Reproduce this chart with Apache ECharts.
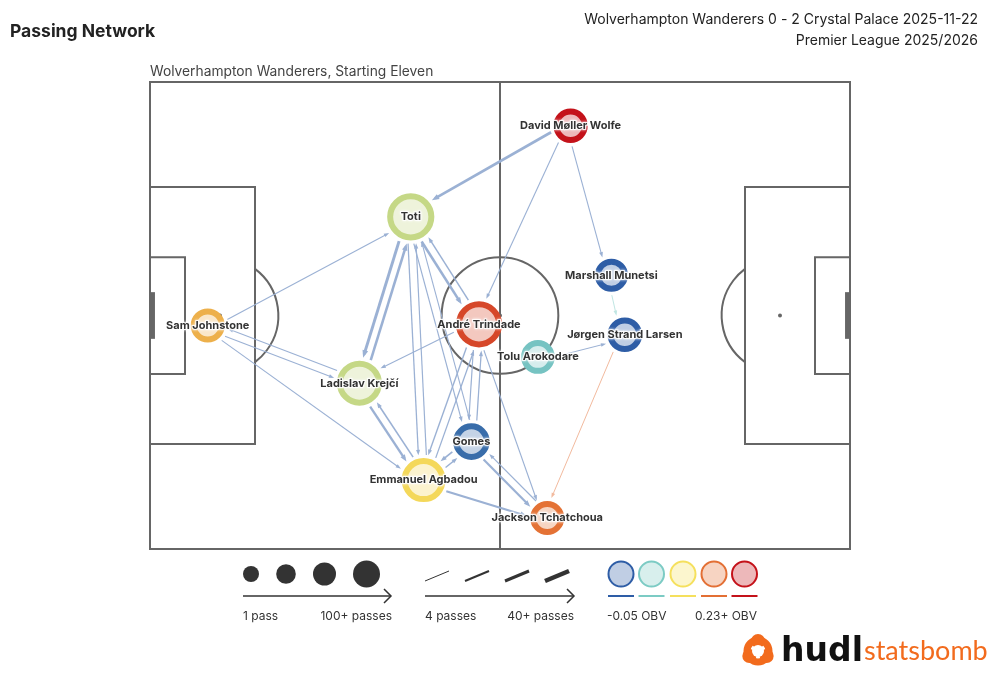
<!DOCTYPE html>
<html><head><meta charset="utf-8">
<script src="https://cdn.jsdelivr.net/npm/echarts@6/dist/echarts.min.js"></script>
<style>html,body{margin:0;padding:0;background:#fff}#c{width:1000px;height:690px}</style>
</head><body><div id="c"></div>
<script>
// ---------- DATA ----------
const players = ['David Møller Wolfe','Toti','Marshall Munetsi','Sam Johnstone','André Trindade','Jørgen Strand Larsen','Tolu Arokodare','Ladislav Krejčí','Gomes','Emmanuel Agbadou','Jackson Tchatchoua'];
const playerX = [72.1, 44.7, 79.1, 9.9, 56.4, 81.4, 66.5, 35.9, 55.1, 46.9, 68.1];
const playerY = [7.5, 23.1, 33.1, 41.7, 41.5, 43.3, 47.1, 51.6, 61.6, 68.2, 74.7];
const playerPasses = [20, 60, 16, 19, 57, 21, 18, 53, 27, 50, 19];
const playerObv = [0.23, 0.062, -0.05, 0.12, 0.19, -0.05, 0.015, 0.062, -0.04, 0.095, 0.158];

const edgeSource = [0, 3, 1, 7, 1, 4, 1, 9, 1, 8, 4, 4, 9, 4, 8, 0, 0, 2, 6, 5, 8, 10, 9, 8, 9, 7, 9, 3, 7, 3, 4];
const edgeTarget = [1, 1, 7, 1, 4, 1, 9, 1, 8, 1, 7, 9, 4, 8, 4, 4, 2, 5, 5, 10, 10, 8, 10, 9, 8, 9, 7, 7, 3, 9, 10];
const edgePasses = [22, 5, 24, 20, 20, 9, 7, 6, 6, 5, 5, 8, 7, 6, 7, 5, 5, 4, 4, 4, 16, 6, 17, 12, 8, 18, 10, 5, 5, 5, 5];
const edgeObv =    [-0.06,-0.06,-0.06,-0.06,-0.06,-0.06,-0.06,-0.06,-0.06,-0.06,-0.06,-0.06,-0.06,-0.06,-0.06,-0.06,-0.06, 0.02,-0.06, 0.16,-0.06,-0.06,-0.06,-0.06,-0.06,-0.06,-0.06,-0.06,-0.06,-0.06,-0.06];

const obvStops = [-0.05, 0.02, 0.09, 0.16, 0.23];
const obvLabels = ['-0.05 OBV', '0.23+ OBV'];
const sizeLabels = ['1 pass', '100+ passes'];
const widthLabels = ['4 passes', '40+ passes'];

// ---------- STYLE HELPERS ----------
const obvColors = ['#2e5da6', '#7ccbc4', '#f5e05d', '#e36f34', '#c4121a'];
function hexRgb(h){ return [parseInt(h.slice(1,3),16), parseInt(h.slice(3,5),16), parseInt(h.slice(5,7),16)]; }
function rgbHex(c){ return '#' + c.map(v => Math.round(Math.max(0,Math.min(255,v))).toString(16).padStart(2,'0')).join(''); }
function obvColor(v){
  if (v <= obvStops[0]) return obvColors[0];
  if (v >= obvStops[obvStops.length-1]) return obvColors[obvColors.length-1];
  for (let i = 0; i < obvStops.length-1; i++) {
    if (v <= obvStops[i+1]) {
      const t = (v - obvStops[i]) / (obvStops[i+1] - obvStops[i]);
      const a = hexRgb(obvColors[i]), b = hexRgb(obvColors[i+1]);
      return rgbHex(a.map((x, k) => x + (b[k]-x)*t));
    }
  }
}
function tint(hex, a){ const c = hexRgb(hex); return rgbHex(c.map(x => 255 - (255 - x)*a)); }
function nodeRadius(p){ return 14 + p * 0.16; }
function edgeWidth(p){ return Math.max(1, Math.min(4.5, 1 + (p - 4) * 3.5 / 36)); }
const BORDER = 6;
const FONT = 'Inter, "Noto Sans", sans-serif';

// pitch geometry (StatsBomb 120x80 units)
const pitch = {
  rects: [[0,0,120,80],[0,18,18,62],[102,18,120,62],[0,30,6,50],[114,30,120,50]],
  lines: [[60,0,60,80]],
  circles: [[60,40,10]],
  arcs: [[12,40,10,-0.9273,0.9273],[108,40,10,Math.PI-0.9273,Math.PI+0.9273]],
  spots: [[108,40],[12,40],[60,40]],
  goals: [[0,36,0.85,44],[119.15,36,120,44]]
};
const PITCH_COL = '#666';

const chart = echarts.init(document.getElementById('c'), null, {renderer: 'canvas'});

const nodeData = players.map((n, i) => {
  const c = obvColor(playerObv[i]);
  return {
    name: n,
    value: [playerX[i], playerY[i], playerPasses[i]],
    symbolSize: 2 * nodeRadius(playerPasses[i]) - BORDER,
    itemStyle: { color: tint(c, 0.3), borderColor: c, borderWidth: BORDER, opacity: 1 }
  };
});
const edgeData = edgeSource.map((s, i) => [s, edgeTarget[i], edgePasses[i], edgeObv[i]]);

// legend graphics
const g = [];
function txt(x, y, text, font, fill, align){ g.push({type:'text', x, y, silent:true, style:{text, font, fill, textAlign: align || 'left', textVerticalAlign:'middle'}}); }
txt(10, 32, 'Passing Network', 'bold 17.5px ' + FONT, '#222');
txt(978, 20, 'Wolverhampton Wanderers 0 - 2 Crystal Palace 2025-11-22', '14px ' + FONT, '#222', 'right');
txt(978, 41, 'Premier League 2025/2026', '14px ' + FONT, '#222', 'right');
txt(150, 72, 'Wolverhampton Wanderers, Starting Eleven', '13.8px ' + FONT, '#444');

[[251,8],[286,9.8],[324.5,11.5],[366.5,13.5]].forEach(d => g.push({type:'circle', shape:{cx:d[0], cy:574, r:d[1]}, style:{fill:'#333'}}));
function arrow(x1, x2, y){
  g.push({type:'line', shape:{x1, y1:y, x2, y2:y}, style:{stroke:'#333', lineWidth:1.5}});
  g.push({type:'polyline', shape:{points:[[x2-7,y-7],[x2,y],[x2-7,y+7]]}, style:{stroke:'#333', lineWidth:1.5, fill:null}});
}
arrow(243, 391, 596);
txt(243, 616, sizeLabels[0], '12px ' + FONT, '#333');
txt(392, 616, sizeLabels[1], '12px ' + FONT, '#333', 'right');
[[425,1],[465,2],[505,3],[545,4.5]].forEach(d => g.push({type:'line', shape:{x1:d[0], y1:581, x2:d[0]+24, y2:571}, style:{stroke:'#333', lineWidth:d[1]}}));
arrow(425, 574, 596);
txt(425, 616, widthLabels[0], '12px ' + FONT, '#333');
txt(574, 616, widthLabels[1], '12px ' + FONT, '#333', 'right');
[621, 651.5, 683, 714, 744.5].forEach((cx, i) => {
  const c = obvColor(obvStops[i]);
  g.push({type:'circle', shape:{cx, cy:574, r:12.5}, style:{fill:tint(c,0.3), stroke:c, lineWidth:2}});
  g.push({type:'line', shape:{x1:cx-13, y1:596, x2:cx+13, y2:596}, style:{stroke:c, lineWidth:2}});
});
txt(607, 616, obvLabels[0], '12px ' + FONT, '#333');
txt(757, 616, obvLabels[1], '12px ' + FONT, '#333', 'right');

// logo
const ORANGE = '#f26b1d';
g.push({type:'circle', shape:{cx:758, cy:651, r:11}, style:{fill:null, stroke:ORANGE, lineWidth:7}});
[[-90],[30],[150]].forEach(a => {
  const r = a[0] * Math.PI / 180;
  g.push({type:'circle', shape:{cx:758 + 10*Math.cos(r), cy:651 + 10*Math.sin(r), r:7}, style:{fill:ORANGE}});
});
g.push({type:'circle', shape:{cx:758, cy:651, r:6}, style:{fill:'#fff'}});
g.push({type:'text', x:863, y:652, style:{text:'hudl', font:'bold 33px "DejaVu Sans"', fill:'#111', textAlign:'right', textVerticalAlign:'middle'}});
g.push({type:'text', x:864, y:651, style:{text:'statsbomb', font:'27px Lato', fill:ORANGE, textAlign:'left', textVerticalAlign:'middle'}});

const option = {
  animation: false,
  backgroundColor: '#fff',
  grid: { left: 150, top: 82, width: 700, height: 467 },
  xAxis: { type: 'value', min: 0, max: 120, show: false },
  yAxis: { type: 'value', min: 0, max: 80, inverse: true, show: false },
  graphic: g,
  series: [
    {
      type: 'custom', z: 1, silent: true,
      data: [[0, 0]],
      renderItem: function (params, api) {
        const ch = [];
        const ux = api.size([1, 0])[0];
        const st = {stroke: PITCH_COL, lineWidth: 2, fill: null};
        pitch.rects.forEach(r => {
          const a = api.coord([r[0], r[1]]), b = api.coord([r[2], r[3]]);
          ch.push({type:'rect', shape:{x:a[0], y:a[1], width:b[0]-a[0], height:b[1]-a[1]}, style:st});
        });
        pitch.lines.forEach(l => {
          const a = api.coord([l[0], l[1]]), b = api.coord([l[2], l[3]]);
          ch.push({type:'line', shape:{x1:a[0], y1:a[1], x2:b[0], y2:b[1]}, style:st});
        });
        pitch.circles.forEach(c => {
          const a = api.coord([c[0], c[1]]);
          ch.push({type:'circle', shape:{cx:a[0], cy:a[1], r:c[2]*ux}, style:st});
        });
        pitch.arcs.forEach(c => {
          const a = api.coord([c[0], c[1]]);
          ch.push({type:'arc', shape:{cx:a[0], cy:a[1], r:c[2]*ux, startAngle:c[3], endAngle:c[4], clockwise:true}, style:st});
        });
        pitch.spots.forEach(s => {
          const a = api.coord(s);
          ch.push({type:'circle', shape:{cx:a[0], cy:a[1], r:2}, style:{fill:PITCH_COL}});
        });
        pitch.goals.forEach(r => {
          const a = api.coord([r[0], r[1]]), b = api.coord([r[2], r[3]]);
          ch.push({type:'rect', shape:{x:a[0], y:a[1], width:b[0]-a[0], height:b[1]-a[1]}, style:{fill:PITCH_COL}});
        });
        return {type:'group', children: ch};
      }
    },
    {
      type: 'custom', z: 2, silent: true,
      data: edgeData,
      renderItem: function (params, api) {
        const s = api.value(0), t = api.value(1), p = api.value(2), o = api.value(3);
        const a = api.coord([playerX[s], playerY[s]]);
        const b = api.coord([playerX[t], playerY[t]]);
        let dx = b[0]-a[0], dy = b[1]-a[1];
        const L = Math.hypot(dx, dy); dx /= L; dy /= L;
        const nx = -dy, ny = dx, off = 4;
        const rs = nodeRadius(playerPasses[s]) + 3, rt = nodeRadius(playerPasses[t]) + 3;
        const x1 = a[0]+dx*rs+nx*off, y1 = a[1]+dy*rs+ny*off;
        const x2 = b[0]-dx*rt+nx*off, y2 = b[1]-dy*rt+ny*off;
        const w = edgeWidth(p);
        const col = tint(obvColor(o), 0.48);
        const al = 4 + w*1.2, aw = 1.3 + w*0.55;
        return {type:'group', children:[
          {type:'line', shape:{x1, y1, x2:x2-dx*al*0.5, y2:y2-dy*al*0.5}, style:{stroke:col, lineWidth:w}},
          {type:'polygon', shape:{points:[[x2,y2],[x2-dx*al+nx*aw, y2-dy*al+ny*aw],[x2-dx*al-nx*aw, y2-dy*al-ny*aw]]}, style:{fill:col}}
        ]};
      }
    },
    {
      type: 'scatter', z: 3, silent: true,
      data: nodeData,
      label: {
        show: true, position: 'inside', formatter: p => p.name,
        fontFamily: FONT, fontWeight: 'bold', fontSize: 11, color: '#333',
        textBorderColor: 'rgba(255,255,255,0.85)', textBorderWidth: 2,
        textShadowColor: '#fff', textShadowBlur: 3
      }
    }
  ]
};
chart.setOption(option);
</script>
</body></html>
